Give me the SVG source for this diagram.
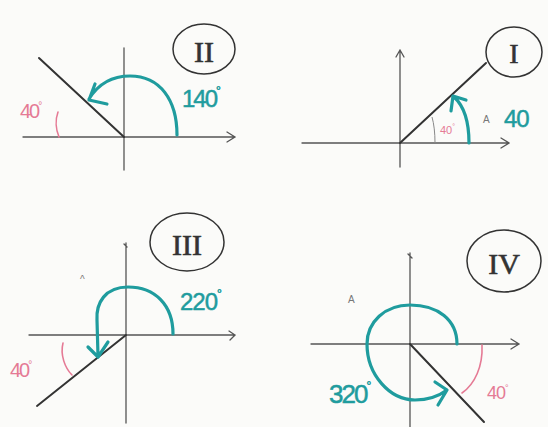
<svg xmlns="http://www.w3.org/2000/svg" width="548" height="427" viewBox="0 0 548 427">
<defs>
<style>
.bg{fill:#fbfbf9}
.axis{stroke:#555;stroke-width:1.3;fill:none;stroke-linecap:round}
.ray{stroke:#333;stroke-width:2;fill:none;stroke-linecap:round}
.teal{stroke:#1f9c9e;stroke-width:3.2;fill:none;stroke-linecap:round;stroke-linejoin:round}
.pink{stroke:#e57a95;stroke-width:1.6;fill:none;stroke-linecap:round}
.pencil{stroke:#888;stroke-width:1;fill:none}
.ring{stroke:#333;stroke-width:1.5;fill:none}
.num{font-family:"Liberation Serif",serif;fill:#333;stroke:#333;stroke-width:0.6;text-anchor:middle}
.tt{font-family:"Liberation Sans",sans-serif;fill:#1f9c9e;stroke:#1f9c9e;stroke-width:0.5}
.pt{font-family:"Liberation Sans",sans-serif;fill:#e57a95}
.gt{font-family:"Liberation Sans",sans-serif;fill:#777}
</style>
</defs>
<rect class="bg" x="0" y="0" width="548" height="427"/>

<g id="panel-II">
<line class="axis" x1="124" y1="48" x2="124" y2="170"/>
<path class="axis" d="M23,137 L235,137 M227,132 L235,137 L227,142"/>
<line class="ray" x1="124" y1="137" x2="39" y2="58"/>
<path class="pink" d="M58,112 C55,120 56,130 59,137"/>
<path class="teal" d="M177,135 C177,100 160,76 130,76 C110,76 97,86 89,99 M95,84 L89,100 L107,104"/>
<ellipse class="ring" cx="204" cy="49" rx="31" ry="25"/>
<text class="num" x="204" y="62" font-size="30">II</text>
<text class="tt" x="182" y="107" font-size="24" letter-spacing="-2">140<tspan font-size="12" dy="-12">°</tspan></text>
<text class="pt" x="20" y="118" font-size="20" letter-spacing="-2">40<tspan font-size="10" dy="-9">°</tspan></text>
</g>

<g id="panel-I">
<path class="axis" d="M400,167 L400,50 M396,57 L400,50 L404,57"/>
<path class="axis" d="M302,143 L509,143 M501,138 L509,143 L501,148"/>
<line class="ray" x1="400" y1="143" x2="486" y2="63"/>
<path class="pencil" d="M432,117 C434,124 435,133 435,143"/>
<path class="teal" d="M469,143 C469,122 464,106 454,97 M451,111 L453,96 L466,100"/>
<ellipse class="ring" cx="514" cy="52" rx="28" ry="25"/>
<text class="num" x="514" y="63" font-size="28">I</text>
<text class="pt" x="440" y="134" font-size="11">40<tspan font-size="7" dy="-5">°</tspan></text>
<text class="gt" x="483" y="123" font-size="10">A</text>
<text class="tt" x="504" y="127" font-size="24" letter-spacing="-1">40</text>
</g>

<g id="panel-III">
<path class="axis" d="M126,423 L126,243 M124,244 L127,247"/>
<path class="axis" d="M29,335 L235,335 M229,331 L235,335 L230,340"/>
<line class="ray" x1="126" y1="335" x2="37" y2="406"/>
<path class="pink" d="M63,343 C60,355 65,368 72,375"/>
<path class="teal" d="M173,334 C173,305 155,287 128,287 C105,287 96,303 97,320 L98,356 M88,347 L98,357 L108,342"/>
<ellipse class="ring" cx="187" cy="242" rx="37" ry="29"/>
<text class="num" x="187" y="255" font-size="30">III</text>
<text class="tt" x="180" y="310" font-size="24" letter-spacing="-1">220<tspan font-size="12" dy="-12">°</tspan></text>
<text class="pt" x="10" y="377" font-size="20" letter-spacing="-2">40<tspan font-size="10" dy="-9">°</tspan></text>
<text class="gt" x="80" y="283" font-size="10">^</text>
</g>

<g id="panel-IV">
<path class="axis" d="M410,427 L410,253 M408,254 L412,258"/>
<path class="axis" d="M311,344 L519,344 M511,339 L519,344 L511,349"/>
<line class="ray" x1="410" y1="344" x2="484" y2="422"/>
<path class="pink" d="M482,345 C483,366 475,384 462,393"/>
<path class="teal" d="M457,344 C457,320 438,305 410,305 C385,305 367,322 367,344 C367,375 390,400 415,400 C428,400 439,396 447,390 M435,382 L447,390 L438,405"/>
<ellipse class="ring" cx="504" cy="261" rx="37" ry="31"/>
<text class="num" x="504" y="274" font-size="30">IV</text>
<text class="tt" x="329" y="403" font-size="26" letter-spacing="-2">320<tspan font-size="12" dy="-13">°</tspan></text>
<text class="pt" x="487" y="399" font-size="18" letter-spacing="-1">40<tspan font-size="9" dy="-8">°</tspan></text>
<text class="gt" x="348" y="303" font-size="10">A</text>
</g>
</svg>
